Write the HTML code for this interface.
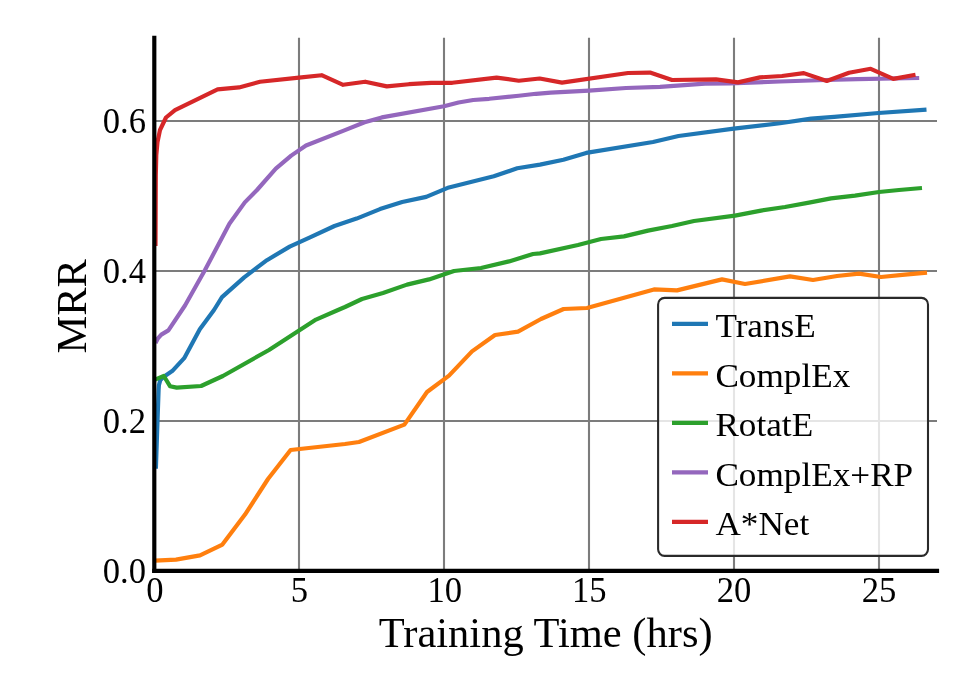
<!DOCTYPE html>
<html>
<head>
<meta charset="utf-8">
<title>MRR vs Training Time</title>
<style>
html,body{margin:0;padding:0;background:#ffffff;}
body{width:975px;height:675px;overflow:hidden;font-family:"Liberation Serif",serif;}
svg{display:block;will-change:transform;}
text{font-family:"Liberation Serif",serif;fill:#000;}
.tick{font-size:34.6px;}
.leg{font-size:35.2px;}
.lab{font-size:42.5px;}
.grid line{stroke:#7c7c7c;stroke-width:2.1;}
.curve{fill:none;stroke-width:4.17;stroke-linejoin:round;stroke-linecap:butt;}
</style>
</head>
<body>
<svg width="975" height="675" viewBox="0 0 975 675">
<rect x="0" y="0" width="975" height="675" fill="#ffffff"/>

<!-- grid -->
<g class="grid">
<line x1="299" y1="37.8" x2="299" y2="571"/>
<line x1="444" y1="37.8" x2="444" y2="571"/>
<line x1="589" y1="37.8" x2="589" y2="571"/>
<line x1="734" y1="37.8" x2="734" y2="571"/>
<line x1="879" y1="37.8" x2="879" y2="571"/>
<line x1="154" y1="421" x2="937" y2="421"/>
<line x1="154" y1="271" x2="937" y2="271"/>
<line x1="154" y1="121" x2="937" y2="121"/>
</g>

<!-- curves -->
<polyline class="curve" stroke="#1f77b4" points="155.9,468.7 157.2,430 158.6,390 158.9,385.3 160.2,380.4 164.2,376.4 172.2,371.1 184.2,358.2 199.8,329.2 214,310 222,297.1 244.2,277.4 266.9,260.2 289.7,246.6 310,237.4 334.5,226 356.6,218.6 380,209.1 402.2,202 426.2,196.9 448.9,187.4 493.8,176.3 517.2,168.3 540,164.6 563.4,159.7 586.2,152.9 653,142 678.5,136 733.8,128.6 780,123.2 811.2,118.6 834.2,116.9 878.5,113 926.5,109.7"/>
<polyline class="curve" stroke="#ff7f0e" points="155,560.6 176,559.6 200,555.4 222.4,544.6 245,514.6 268,479 290.6,450 345,444 359,442 404.4,424.6 427,392 449,375.6 472,351.4 495,335 518,331.6 541,319 563.6,309 587,308 654,289.4 677,290.4 722,279.4 745,284 790,276.4 813,280 837,276 859,273.6 881,277 905,274.6 927,272.6"/>
<polyline class="curve" stroke="#2ca02c" points="155,379.6 163.8,376 170,386.2 176.7,387.6 201.1,386 222.9,376 269,350 316,319.6 338,310 345,307 362,299 383,293 407,284.6 429,279.4 454,271 481,268 509,261.4 533,254 540,253.4 578,245 601,239 624,236.4 648,230.6 672,226 694,221 735,215.6 761,210.6 785,207 809,202.6 831,198.4 855,195.6 879,192 899,190 922,188"/>
<polyline class="curve" stroke="#9467bd" points="155.5,343 157.7,338.7 161.3,334.6 168.4,330.4 185,305.5 205,270 229.4,223.8 244.8,202.4 257,190 275.8,168.6 291.2,155.6 306,145.5 345,130.1 364.6,122.3 381.8,117.4 444,106.3 458.5,102.5 473.2,100 489.2,98.8 518.8,95.7 536,93.8 550.8,92.6 589,90.6 626,88 660,86.8 705,83.7 730,83.4 780,81.5 826,80 857,79.2 919.2,78"/>
<polyline class="curve" stroke="#d62728" points="155.5,246 155.8,175 156.3,155 157.5,142 160,130 166,117.5 175,110.2 217.6,89.4 239,87.4 260,81.8 299,77.6 321.6,75.2 343.1,84.8 365.2,81.7 386.8,86.4 408.9,84.2 431.1,82.9 452.3,82.8 496.6,77.6 518.8,80.7 539.7,78.5 562,82.6 628,73 650,72.6 672,80 716,79.4 738,82.4 760,77.4 782,76 803.8,73.1 826.8,81 849,72.8 870.7,68.8 893.3,78.9 915.5,74.8"/>

<!-- spines -->
<line x1="154.3" y1="35.7" x2="154.3" y2="573" stroke="#000" stroke-width="4.17"/>
<line x1="152.2" y1="570.95" x2="939.1" y2="570.95" stroke="#000" stroke-width="4.17"/>

<!-- tick labels -->
<g class="tick" text-anchor="end">
<text transform="translate(146,583.3) scale(1,1.045)">0.0</text>
<text transform="translate(146,433.3) scale(1,1.045)">0.2</text>
<text transform="translate(146,283.3) scale(1,1.045)">0.4</text>
<text transform="translate(146,133.3) scale(1,1.045)">0.6</text>
</g>
<g class="tick" text-anchor="middle">
<text transform="translate(154.8,601.5) scale(1,1.045)">0</text>
<text transform="translate(299.4,601.5) scale(1,1.045)">5</text>
<text transform="translate(444.8,601.5) scale(1,1.045)">10</text>
<text transform="translate(589.2,601.5) scale(1,1.045)">15</text>
<text transform="translate(734.1,601.5) scale(1,1.045)">20</text>
<text transform="translate(879,601.5) scale(1,1.045)">25</text>
</g>

<!-- axis labels -->
<text class="lab" text-anchor="middle" transform="translate(545.7,647)">Training Time (hrs)</text>
<text class="lab" text-anchor="middle" transform="translate(86,306.3) rotate(-90)">MRR</text>

<!-- legend -->
<rect x="658.1" y="297.9" width="269.9" height="257.95" rx="6.5" ry="6.5" fill="#ffffff" fill-opacity="0.8" stroke="#2a2a2a" stroke-width="2.08"/>
<g stroke-width="4.17" stroke-linecap="butt">
<line x1="672" y1="323.90" x2="708" y2="323.90" stroke="#1f77b4"/>
<line x1="672" y1="373.40" x2="708" y2="373.40" stroke="#ff7f0e"/>
<line x1="672" y1="422.90" x2="708" y2="422.90" stroke="#2ca02c"/>
<line x1="672" y1="472.40" x2="708" y2="472.40" stroke="#9467bd"/>
<line x1="672" y1="521.90" x2="708" y2="521.90" stroke="#d62728"/>
</g>
<g class="leg">
<text transform="translate(715.4,337.0) scale(1,0.975)">TransE</text>
<text transform="translate(715.4,386.6) scale(1,0.975)">ComplEx</text>
<text transform="translate(715.4,436.2) scale(1,0.975)">RotatE</text>
<text transform="translate(715.4,485.7) scale(1,0.975)">ComplEx+RP</text>
<text transform="translate(715.4,535.3) scale(1,0.975)">A*Net</text>
</g>
</svg>
</body>
</html>
